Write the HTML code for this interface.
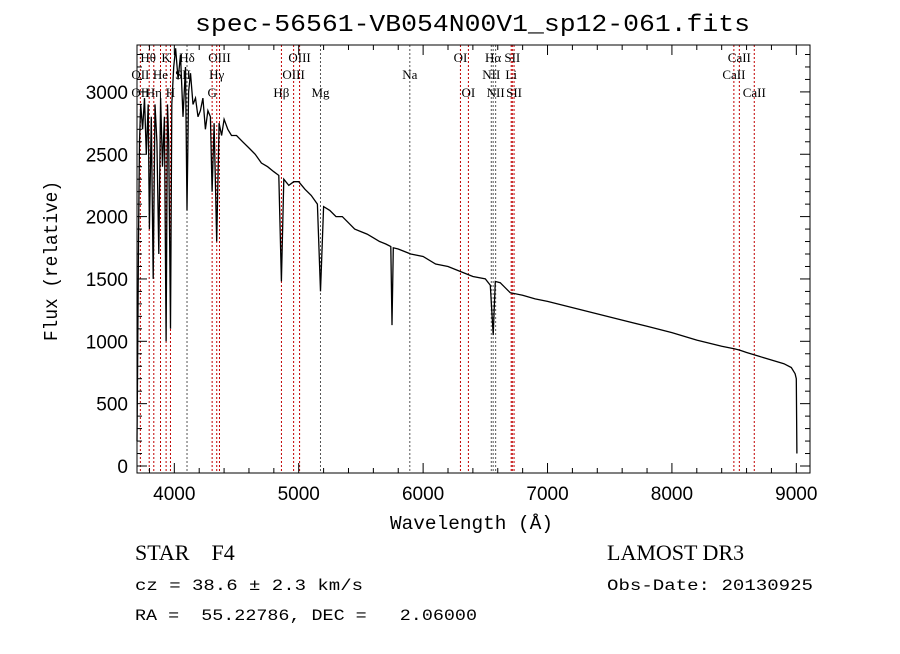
<!DOCTYPE html>
<html><head><meta charset="utf-8"><style>
body{margin:0;background:#fff}
svg text{font-family:"Liberation Sans",sans-serif;fill:#000}
</style></head><body>
<svg width="900" height="649" viewBox="0 0 900 649" id="chart">
<rect width="900" height="649" fill="#fff"/>
<text x="195" y="31" font-size="24" textLength="555" lengthAdjust="spacingAndGlyphs" style="font-family:'Liberation Mono',monospace">spec-56561-VB054N00V1_sp12-061.fits</text>
<g id="lines"></g>
<g id="spec"></g>
<rect x="137" y="45" width="673" height="428" fill="none" stroke="#000" stroke-width="1"/>
<g id="axes"></g>
<text x="390" y="529" font-size="19" textLength="163" lengthAdjust="spacingAndGlyphs" style="font-family:'Liberation Mono',monospace">Wavelength (Å)</text>
<text transform="translate(57,341) rotate(-90)" font-size="19" textLength="160" lengthAdjust="spacingAndGlyphs" style="font-family:'Liberation Mono',monospace">Flux (relative)</text>
<text x="135" y="560" font-size="22" xml:space="preserve" style="font-family:'Liberation Serif',serif;white-space:pre">STAR    F4</text>
<text x="607" y="560" font-size="22" style="font-family:'Liberation Serif',serif">LAMOST DR3</text>
<text x="135" y="590" font-size="16" textLength="228" lengthAdjust="spacingAndGlyphs" style="font-family:'Liberation Mono',monospace">cz = 38.6 ± 2.3 km/s</text>
<text x="607" y="590" font-size="16" textLength="206" lengthAdjust="spacingAndGlyphs" style="font-family:'Liberation Mono',monospace">Obs-Date: 20130925</text>
<text x="135" y="620" font-size="16" xml:space="preserve" textLength="342" lengthAdjust="spacingAndGlyphs" style="font-family:'Liberation Mono',monospace;white-space:pre">RA =  55.22786, DEC =   2.06000</text>
</svg>
<script>
const waves=[3700,3705,3712,3720,3730,3745,3760,3775,3790,3800,3815,3830,3845,3860,3875,3890,3905,3920,3934,3945,3955,3969,3980,3995,4010,4030,4050,4070,4090,4102,4115,4130,4150,4170,4190,4210,4230,4250,4270,4290,4304,4320,4341,4360,4380,4400,4430,4460,4500,4550,4600,4650,4700,4750,4800,4840,4861,4880,4920,4960,5000,5050,5100,5150,5175,5200,5250,5300,5350,5400,5450,5500,5550,5600,5650,5700,5740,5750,5760,5800,5850,5900,6000,6100,6200,6300,6400,6500,6540,6563,6580,6620,6700,6800,6900,7000,7200,7400,7600,7800,8000,8200,8400,8500,8542,8600,8700,8800,8900,8960,8990,9000,9005];
const fluxes=[200,800,1800,2600,2900,2700,2950,2500,2900,1900,2800,1500,2900,2600,1700,2950,2400,2800,1000,2900,2600,1100,2900,3200,3350,3100,3300,2800,3200,2050,3000,3150,2900,2950,2800,2850,2950,2700,2850,2800,2200,2750,1800,2750,2650,2780,2700,2650,2650,2600,2550,2500,2430,2400,2360,2330,1480,2300,2250,2280,2280,2220,2170,2100,1400,2080,2050,2000,2000,1950,1900,1880,1860,1830,1800,1780,1760,1130,1750,1740,1720,1700,1680,1620,1600,1560,1520,1500,1450,1050,1480,1470,1390,1370,1340,1320,1270,1220,1170,1120,1070,1010,960,940,930,910,880,850,820,790,740,700,100];
const xTicks=[4000,5000,6000,7000,8000,9000];
const yTicks=[0,500,1000,1500,2000,2500,3000];
const lineWaves=[3727,3798,3835,3889,3934,3969,4102,4304,4341,4363,4861,4959,5007,5175,5893,6300,6364,6548,6563,6583,6708,6717,6731,8498,8542,8662];
const lineRed=[1,1,1,1,1,1,0,1,1,1,1,1,1,0,0,1,1,0,0,0,1,1,1,1,1,1];
const labels=[["Hθ",3790,1],["K",3934,1],["Hδ",4102,1],["OIII",4363,1],["OIII",5007,1],["OI",6300,1],["Hα",6563,1],["SII",6717,1],["CaII",8542,1],
["OII",3727,2],["He",3889,2],["SII",4069,2],["Hγ",4341,2],["OIII",4959,2],["Na",5893,2],["NII",6548,2],["Li",6708,2],["CaII",8498,2],
["OII",3727,3],["Hη",3835,3],["H",3969,3],["G",4304,3],["Hβ",4861,3],["Mg",5175,3],["OI",6364,3],["NII",6583,3],["SII",6731,3],["CaII",8662,3]];
const X=w=>137+(w-3700)*0.1244;
const Y=f=>466-f*0.1247;
const NS="http://www.w3.org/2000/svg";
function mk(t,a,p){const e=document.createElementNS(NS,t);for(const k in a)e.setAttribute(k,a[k]);p.appendChild(e);return e;}
const gl=document.getElementById('lines');
lineWaves.forEach((w,i)=>{const l=mk('line',{x1:X(w),x2:X(w),y1:45,y2:473,stroke:lineRed[i]?'#c00000':'#555','stroke-width':1,'stroke-dasharray':'2,2'},gl);

});
labels.forEach(([t,w,r])=>{const e=mk('text',{x:X(w),y:[0,62,79,97][r],'font-size':13,'text-anchor':'middle',style:"font-family:'Liberation Serif',serif"},gl);e.textContent=t;

});
const gs=document.getElementById('spec');
let d='';waves.forEach((w,i)=>{d+=(i?'L':'M')+X(w).toFixed(1)+','+Math.max(45,Y(fluxes[i])).toFixed(1);});
const p=mk('path',{d:d,fill:'none',stroke:'#000','stroke-width':1.3},gs);


const ga=document.getElementById('axes');
for(let w=3800;w<=9100;w+=200){const big=w%1000===0;
mk('line',{x1:X(w),x2:X(w),y1:473,y2:473-(big?10:5),stroke:'#000'},ga);
mk('line',{x1:X(w),x2:X(w),y1:45,y2:45+(big?10:5),stroke:'#000'},ga);}
xTicks.forEach(w=>{const t=mk('text',{x:X(w),y:500,'font-size':19,'text-anchor':'middle'},ga);t.textContent=w;

});
for(let f=0;f<=3300;f+=100){const big=f%500===0;
mk('line',{x1:137,x2:137+(big?10:5),y1:Y(f),y2:Y(f),stroke:'#000'},ga);
mk('line',{x1:810,x2:810-(big?10:5),y1:Y(f),y2:Y(f),stroke:'#000'},ga);}
yTicks.forEach(f=>{const t=mk('text',{x:128,y:Y(f)+7,'font-size':19,'text-anchor':'end'},ga);t.textContent=f;

});
</script>
</body></html>
